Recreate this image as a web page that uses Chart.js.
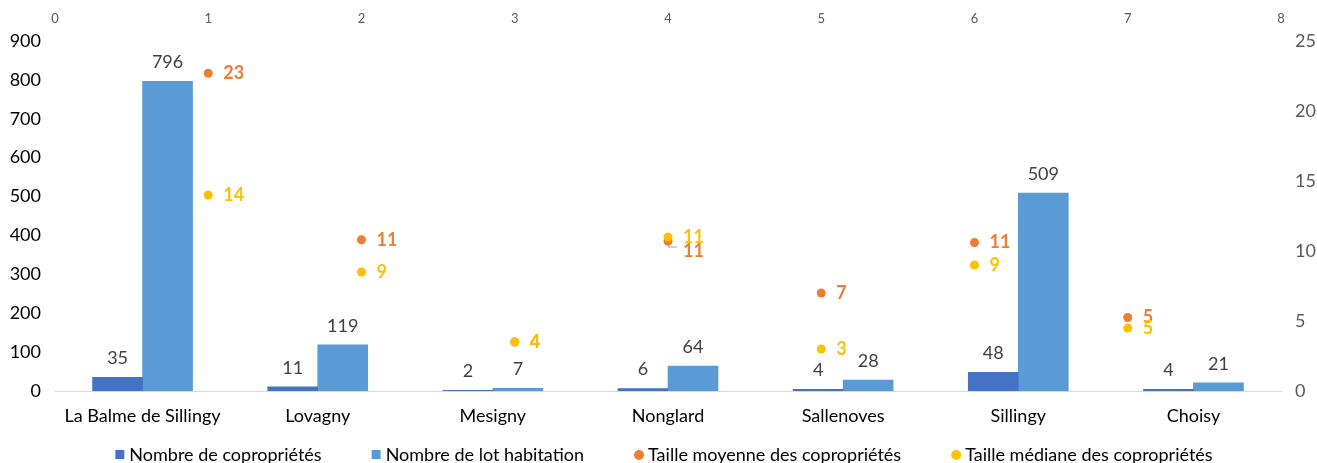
<!DOCTYPE html>
<html lang="fr">
<head>
<meta charset="utf-8">
<title>Copropriétés par commune</title>
<script src="https://cdn.jsdelivr.net/npm/chart.js@4.4.1/dist/chart.umd.min.js"></script>
<style>
  html, body { margin: 0; padding: 0; background: #fff; }
  canvas { display: block; }
</style>
</head>
<body>
<canvas id="chart" width="1317" height="463"></canvas>
<script>
const FONT = "Lato, 'DejaVu Sans', sans-serif";

// Data
const communes = ["La Balme de Sillingy", "Lovagny", "Mesigny", "Nonglard", "Sallenoves", "Sillingy", "Choisy"];
const nbCoproprietes = [35, 11, 2, 6, 4, 48, 4];
const nbLots = [796, 119, 7, 64, 28, 509, 21];
const tailleMoyenne = [22.7, 10.8, 3.5, 10.7, 7, 10.6, 5.25];
const tailleMediane = [14, 8.5, 3.5, 11, 3, 9, 4.5];
const positionsHaut = [1, 2, 3, 4, 5, 6, 7];

const legendItems = [
  { text: "Nombre de copropriétés", color: "#4472C4", shape: "rect" },
  { text: "Nombre de lot habitation", color: "#5B9BD5", shape: "rect" },
  { text: "Taille moyenne des copropriétés", color: "#ED7D31", shape: "circle" },
  { text: "Taille médiane des copropriétés", color: "#FFC000", shape: "circle" }
];

// Value labels above bars and next to points
const etiquettes = {
  id: "etiquettes",
  afterDatasetsDraw(chart) {
    const ctx = chart.ctx;
    ctx.save();
    ctx.font = `18px ${FONT}`;
    ctx.fillStyle = "#404040";
    ctx.textAlign = "center";
    ctx.textBaseline = "middle";
    [2, 3].forEach(i => {
      chart.getDatasetMeta(i).data.forEach((bar, j) => {
        ctx.fillText(chart.data.datasets[i].data[j], bar.x, bar.y - 19);
      });
    });

    // median labels first, average labels moved down when they collide
    const placed = [];
    [1, 0].forEach(i => {
      chart.getDatasetMeta(i).data.forEach((pt, j) => {
        let y = pt.y;
        let moved = false;
        const other = placed.find(p => p.j === j && Math.abs(p.y - y) > 0.5 && Math.abs(p.y - y) < 10);
        if (other) { y = other.y + 14; moved = true; }
        placed.push({ i, j, x: pt.x, y, py: pt.y, moved, value: chart.data.datasets[i].data[j].y });
      });
    });
    placed.sort((a, b) => a.i - b.i);
    placed.forEach(p => {
      if (p.moved) {
        ctx.strokeStyle = "#A6A6A6";
        ctx.lineWidth = 1;
        ctx.beginPath();
        ctx.moveTo(p.x + 0.5, p.py + 3);
        ctx.lineTo(p.x + 0.5, p.y - 4);
        ctx.lineTo(p.x + 9, p.y - 4);
        ctx.stroke();
      }
      ctx.font = `bold 18px ${FONT}`;
      ctx.fillStyle = chart.data.datasets[p.i].backgroundColor;
      ctx.textAlign = "left";
      ctx.fillText(Math.round(p.value), p.x + 15, p.y);
    });
    ctx.restore();
  }
};

// Legend drawn by hand to match the spacing of the original
const legende = {
  id: "legende",
  afterDraw(chart) {
    const ctx = chart.ctx;
    ctx.save();
    ctx.font = `18px ${FONT}`;
    ctx.textBaseline = "middle";
    ctx.textAlign = "left";
    const gap = 50;
    const widths = legendItems.map(it => 14 + ctx.measureText(it.text).width);
    const total = widths.reduce((a, b) => a + b, 0) + gap * (legendItems.length - 1);
    let x = (chart.chartArea.left + chart.chartArea.right) / 2 - 4 - total / 2;
    const y = 455;
    legendItems.forEach((it, k) => {
      ctx.fillStyle = it.color;
      if (it.shape === "rect") {
        ctx.fillRect(x, y - 5, 9, 9);
      } else {
        ctx.beginPath();
        ctx.arc(x + 5, y, 5, 0, Math.PI * 2);
        ctx.fill();
      }
      ctx.fillStyle = "#000";
      ctx.fillText(it.text, x + 14, y);
      x += widths[k] + gap;
    });
    ctx.restore();
  }
};

const ctx = document.getElementById("chart").getContext("2d");

// point series are line datasets without lines, on their own top/right axes
new Chart(ctx, {
  type: "bar",
  data: {
    labels: communes,
    datasets: [
      {
        type: "line",
        label: "Taille moyenne des copropriétés",
        data: positionsHaut.map((x, i) => ({ x: x, y: tailleMoyenne[i] })),
        backgroundColor: "#ED7D31",
        borderColor: "#ED7D31",
        showLine: false,
        borderWidth: 0,
        pointRadius: 4.5,
        pointBorderWidth: 0,
        xAxisID: "x2",
        yAxisID: "y2",
        order: 1
      },
      {
        type: "line",
        label: "Taille médiane des copropriétés",
        data: positionsHaut.map((x, i) => ({ x: x, y: tailleMediane[i] })),
        backgroundColor: "#FFC000",
        borderColor: "#FFC000",
        showLine: false,
        borderWidth: 0,
        pointRadius: 4.5,
        pointBorderWidth: 0,
        xAxisID: "x2",
        yAxisID: "y2",
        order: 0
      },
      {
        label: "Nombre de copropriétés",
        data: nbCoproprietes,
        backgroundColor: "#4472C4",
        barThickness: 50,
        xAxisID: "x",
        yAxisID: "y",
        order: 2
      },
      {
        label: "Nombre de lot habitation",
        data: nbLots,
        backgroundColor: "#5B9BD5",
        barThickness: 50,
        xAxisID: "x",
        yAxisID: "y",
        order: 3
      }
    ]
  },
  options: {
    responsive: false,
    animation: false,
    layout: { padding: { bottom: 30 } },
    plugins: {
      legend: { display: false },
      tooltip: { enabled: false }
    },
    scales: {
      x: {
        type: "category",
        position: "bottom",
        grid: { display: false, drawTicks: false },
        border: { display: true, color: "#D9D9D9", width: 1 },
        ticks: { color: "#000", font: { family: FONT, size: 18 }, padding: 14, maxRotation: 0, autoSkip: false },
        afterFit: scale => { scale.height = 42; }
      },
      x2: {
        type: "linear",
        position: "top",
        offset: false,
        min: 0,
        max: 8,
        grid: { display: false, drawTicks: false, offset: false },
        border: { display: false },
        ticks: { stepSize: 1, color: "#595959", font: { family: FONT, size: 13 }, padding: 14 },
        afterFit: scale => { scale.height = 41; }
      },
      y: {
        position: "left",
        min: 0,
        max: 900,
        grid: { display: false, drawTicks: false },
        border: { display: false },
        ticks: { stepSize: 100, color: "#000", font: { family: FONT, size: 18 }, padding: 14 },
        afterFit: scale => { scale.width = 55; }
      },
      y2: {
        position: "right",
        min: 0,
        max: 25,
        grid: { display: false, drawTicks: false },
        border: { display: false },
        ticks: { stepSize: 5, color: "#595959", font: { family: FONT, size: 18 }, padding: 14 },
        afterFit: scale => { scale.width = 36; }
      }
    }
  },
  plugins: [etiquettes, legende]
});
</script>
</body>
</html>
